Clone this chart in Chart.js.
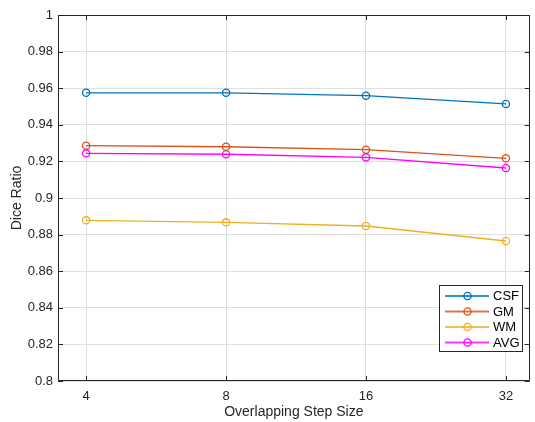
<!DOCTYPE html>
<html>
<head>
<meta charset="utf-8">
<script src="https://cdn.jsdelivr.net/npm/chart.js@4.4.1/dist/chart.umd.min.js"></script>
<style>
html,body{margin:0;padding:0;background:#fff;}
canvas{display:block;}
</style>
</head>
<body>
<canvas id="c" width="535" height="422"></canvas>
<script>
const categories = [4, 8, 16, 32];
const csf = [0.9575, 0.9575, 0.9559, 0.9514];
const gm  = [0.9286, 0.9280, 0.9264, 0.9217];
const wm  = [0.8878, 0.8867, 0.8847, 0.8765];
const avg = [0.9244, 0.9239, 0.9222, 0.9164];
const seriesNames = ['CSF', 'GM', 'WM', 'AVG'];
const yTicks = [0.8, 0.82, 0.84, 0.86, 0.88, 0.9, 0.92, 0.94, 0.96, 0.98, 1];
const yTickLabels = ['0.8', '0.82', '0.84', '0.86', '0.88', '0.9', '0.92', '0.94', '0.96', '0.98', '1'];
const xTickLabels = ['4', '8', '16', '32'];
const xTitle = 'Overlapping Step Size';
const yTitle = 'Dice Ratio';

const colors = ['#0072BD', '#D95319', '#EDB120', '#FF00FF'];
const axisColor = '#262626';
const gridColor = '#dfdfdf';
const FONT = "'Liberation Sans', Arial, Helvetica, sans-serif";

function mk(name, vals, col) {
  return {
    label: name,
    data: categories.map((c, i) => ({x: c, y: vals[i]})),
    borderColor: col,
    backgroundColor: 'rgba(0,0,0,0)',
    borderWidth: 1.3,
    pointStyle: 'circle',
    pointRadius: 3.6,
    pointBorderWidth: 1.3,
    pointBackgroundColor: 'rgba(0,0,0,0)',
    pointBorderColor: col,
    tension: 0,
    fill: false
  };
}

const boxPlugin = {
  id: 'boxPlugin',
  afterDraw(chart) {
    const {ctx, chartArea: a, scales} = chart;
    ctx.save();
    ctx.strokeStyle = axisColor;
    ctx.lineWidth = 1;
    const L = 5;
    ctx.beginPath();
    categories.forEach(v => {
      const x = Math.round(scales.x.getPixelForValue(v)) + 0.5;
      ctx.moveTo(x, a.bottom); ctx.lineTo(x, a.bottom - L);
      ctx.moveTo(x, a.top); ctx.lineTo(x, a.top + L);
    });
    yTicks.forEach(v => {
      const y = Math.round(scales.y.getPixelForValue(v)) + 0.5;
      ctx.moveTo(a.left, y); ctx.lineTo(a.left + L, y);
      ctx.moveTo(a.right, y); ctx.lineTo(a.right - L, y);
    });
    ctx.stroke();
    ctx.beginPath();
    ctx.rect(Math.round(a.left) + 0.5, Math.round(a.top) + 0.5,
             Math.round(a.right - a.left) - 1, Math.round(a.bottom - a.top) - 1);
    ctx.stroke();

    // legend
    const bx = 439.5, by = 285.5, bw = 83, bh = 66;
    ctx.fillStyle = '#ffffff';
    ctx.fillRect(bx, by, bw, bh);
    ctx.strokeStyle = axisColor;
    ctx.lineWidth = 1;
    ctx.strokeRect(bx, by, bw, bh);
    const rows = [296, 311.5, 327, 342.5];
    ctx.font = '13px ' + FONT;
    ctx.textBaseline = 'middle';
    ctx.textAlign = 'left';
    chart.data.datasets.forEach((ds, i) => {
      const y = rows[i];
      ctx.globalAlpha = 0.8;
      ctx.strokeStyle = ds.borderColor;
      ctx.lineWidth = 1.8;
      ctx.beginPath();
      ctx.moveTo(445, y); ctx.lineTo(489, y);
      ctx.stroke();
      ctx.globalAlpha = 1;
      ctx.lineWidth = 1.3;
      ctx.beginPath();
      ctx.arc(467.5, y, 3.6, 0, Math.PI * 2);
      ctx.stroke();
      ctx.fillStyle = '#000000';
      ctx.fillText(ds.label, 493, y + 0.5);
    });
    ctx.restore();
  }
};

new Chart(document.getElementById('c'), {
  type: 'line',
  data: {
    datasets: [
      mk(seriesNames[0], csf, colors[0]),
      mk(seriesNames[1], gm, colors[1]),
      mk(seriesNames[2], wm, colors[2]),
      mk(seriesNames[3], avg, colors[3])
    ]
  },
  options: {
    responsive: false,
    animation: false,
    layout: {padding: {left: 0, right: 1, top: 15, bottom: 0}},
    plugins: {legend: {display: false}, tooltip: {enabled: false}, title: {display: false}},
    scales: {
      x: {
        type: 'logarithmic',
        min: 3.48,
        max: 36,
        afterBuildTicks(s) { s.ticks = categories.map(v => ({value: v})); },
        afterFit(s) { s.height = 41; s.paddingLeft = 0; s.paddingRight = 0; },
        grid: {color: gridColor, drawTicks: false, lineWidth: 1},
        border: {display: false},
        ticks: {
          autoSkip: false, maxRotation: 0, padding: 8,
          color: axisColor, font: {family: FONT, size: 13},
          callback(v) { const i = categories.indexOf(v); return i >= 0 ? xTickLabels[i] : ''; }
        },
        title: {display: true, text: xTitle, color: axisColor,
                font: {family: FONT, size: 14}, padding: {top: 0, bottom: 1.5}}
      },
      y: {
        type: 'linear',
        min: 0.8,
        max: 1,
        afterBuildTicks(s) { s.ticks = yTicks.map(v => ({value: v})); },
        afterFit(s) { s.width = 58; s.paddingTop = 0; s.paddingBottom = 0; },
        grid: {color: gridColor, drawTicks: false, lineWidth: 1},
        border: {display: false},
        ticks: {
          padding: 5, color: axisColor, font: {family: FONT, size: 13},
          callback(v) { const i = yTicks.findIndex(t => Math.abs(t - v) < 1e-9); return i >= 0 ? yTickLabels[i] : ''; }
        },
        title: {display: true, text: yTitle, color: axisColor,
                font: {family: FONT, size: 14}, padding: {top: 9, bottom: 0}}
      }
    }
  },
  plugins: [boxPlugin]
});
</script>
</body>
</html>
